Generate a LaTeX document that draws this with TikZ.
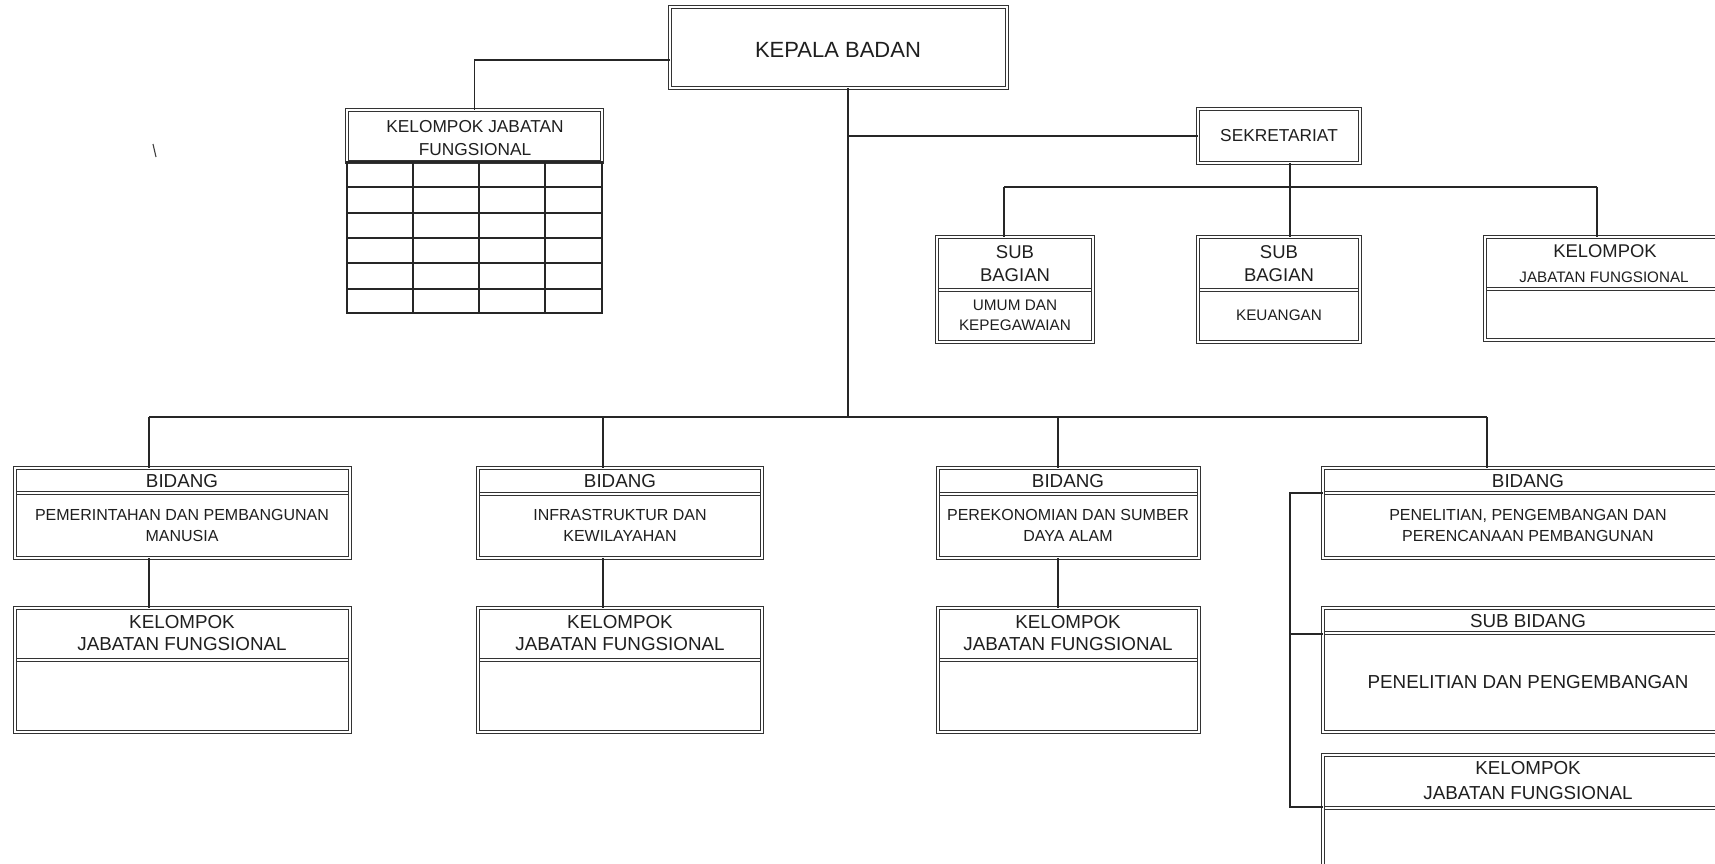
\documentclass[tikz,border=0pt]{standalone}
\usepackage{fontspec}
\setmainfont{Liberation Sans}
\begin{document}
\begin{tikzpicture}[x=1pt,y=-1pt,
  box/.style={draw=black!80, double=white, double distance=1.6pt, line width=1.1pt,
    inner sep=0pt, outer sep=0pt, anchor=north west},
  divline/.style={draw=black!80, line width=1.1pt},
  conn/.style={draw=black!85, line width=1.4pt},
  grid/.style={draw=black!85, line width=1.2pt},
  txt/.style={inner sep=0pt, outer sep=0pt, align=center, text=black!88},
  fa/.style={font=\fontsize{22}{26}\selectfont},
  fh/.style={font=\fontsize{18.8}{22}\selectfont},
  fd/.style={font=\fontsize{16}{21}\selectfont},
  fs/.style={font=\fontsize{15.3}{20}\selectfont}]
\useasboundingbox (0,0) rectangle (1715,863);
\fill[white] (0,0) rectangle (1715,863);
\clip (0,0) rectangle (1715,863);

% ---------- dividers (two thin lines each), drawn under the box borders ----------
\foreach \xa/\xb/\yy in {937/1093/290, 1198/1360/290, 1485/1725/289,
    15/350/493, 478/762/494, 938/1199/494, 1323/1733/493,
    15/350/660, 478/762/660, 938/1199/660, 1323/1733/633, 1323/1733/808}
  {\draw[divline] (\xa,\yy-1.4) -- (\xb,\yy-1.4);
   \draw[divline] (\xa,\yy+1.4) -- (\xb,\yy+1.4);}

% ---------- boxes ----------
\node[box, minimum width=337pt, minimum height=81pt] (kepala) at (670,7) {};
\node[box, minimum width=255pt, minimum height=52pt] (kjf) at (347,110) {};
\node[box, minimum width=162pt, minimum height=54pt] (sek) at (1198,109) {};
\node[box, minimum width=156pt, minimum height=105pt] (subum) at (937,237) {};
\node[box, minimum width=162pt, minimum height=105pt] (subkeu) at (1198,237) {};
\node[box, minimum width=240pt, minimum height=103pt] (kjfs) at (1485,237) {};
\node[box, minimum width=335pt, minimum height=90pt] (b1) at (15,468) {};
\node[box, minimum width=284pt, minimum height=90pt] (b2) at (478,468) {};
\node[box, minimum width=261pt, minimum height=90pt] (b3) at (938,468) {};
\node[box, minimum width=410pt, minimum height=90pt] (b4) at (1323,468) {};
\node[box, minimum width=335pt, minimum height=124pt] (k1) at (15,608) {};
\node[box, minimum width=284pt, minimum height=124pt] (k2) at (478,608) {};
\node[box, minimum width=261pt, minimum height=124pt] (k3) at (938,608) {};
\node[box, minimum width=410pt, minimum height=124pt] (subbid) at (1323,608) {};
\node[box, minimum width=410pt, minimum height=150pt] (kjfb) at (1323,755) {};

% ---------- table under top-left group ----------
\draw[grid] (347,162) rectangle (602,313);
\foreach \xx in {413,479,545} \draw[grid] (\xx,162) -- (\xx,313);
\foreach \yy in {187,213,238,263,289} \draw[grid] (347,\yy) -- (602,\yy);

% ---------- texts ----------
\node[txt, fa] (tkepala) at (838,50) {KEPALA BADAN};
\node[txt, font=\fontsize{17.3}{23}\selectfont] (tkjf) at (475,138.5) {KELOMPOK JABATAN\\FUNGSIONAL};
\node[txt, font=\fontsize{17.3}{22}\selectfont] (tsek) at (1279,136) {SEKRETARIAT};
\node[txt, font=\fontsize{18.5}{23}\selectfont] (tsubum1) at (1015,263.5) {SUB\\BAGIAN};
\node[txt, fs] (tsubum2) at (1015,315) {UMUM DAN\\KEPEGAWAIAN};
\node[txt, font=\fontsize{18.5}{23}\selectfont] (tsubkeu1) at (1279,263.5) {SUB\\BAGIAN};
\node[txt, fs] (tsubkeu2) at (1279,315) {KEUANGAN};
\node[txt, font=\fontsize{18.4}{22}\selectfont] (tkjfs1) at (1605,251) {KELOMPOK};
\node[txt, font=\fontsize{15.2}{20}\selectfont] (tkjfs2) at (1604,277) {JABATAN FUNGSIONAL};

\node[txt, fh] (tb1h) at (182,481) {BIDANG};
\node[txt, fd] (tb1d) at (182,525.5) {PEMERINTAHAN DAN PEMBANGUNAN\\MANUSIA};
\node[txt, fh] (tb2h) at (620,481) {BIDANG};
\node[txt, fd] (tb2d) at (620,525.5) {INFRASTRUKTUR DAN\\KEWILAYAHAN};
\node[txt, fh] (tb3h) at (1068,481) {BIDANG};
\node[txt, fd] (tb3d) at (1068,525.5) {PEREKONOMIAN DAN SUMBER\\DAYA ALAM};
\node[txt, fh] (tb4h) at (1528,481) {BIDANG};
\node[txt, fd] (tb4d) at (1528,525.5) {PENELITIAN, PENGEMBANGAN DAN\\PERENCANAAN PEMBANGUNAN};

\node[txt, fh] (tk1) at (182,633) {KELOMPOK\\JABATAN FUNGSIONAL};
\node[txt, fh] (tk2) at (620,633) {KELOMPOK\\JABATAN FUNGSIONAL};
\node[txt, fh] (tk3) at (1068,633) {KELOMPOK\\JABATAN FUNGSIONAL};
\node[txt, fh] (tsb1) at (1528,621) {SUB BIDANG};
\node[txt, fh] (tsb2) at (1528,682) {PENELITIAN DAN PENGEMBANGAN};
\node[txt, font=\fontsize{18.8}{25}\selectfont] (tkjfb) at (1528,780.5) {KELOMPOK\\JABATAN FUNGSIONAL};

% ---------- connectors ----------
\coordinate (kl) at (670,60);
\draw[conn] (kl) -| (kjf.north);

\coordinate (t1) at (848,417);
\draw[conn] (kepala.south -| t1) -- (t1);
\draw[conn] (t1 |- sek.west) -- (sek.west);

\coordinate (bl) at (149,417);
\coordinate (bm2) at (603,417);
\coordinate (bm3) at (1058,417);
\coordinate (br) at (1487,417);
\draw[conn] (bl) -- (br);
\draw[conn] (bl) -- (bl |- b1.north);
\draw[conn] (bm2) -- (bm2 |- b2.north);
\draw[conn] (bm3) -- (bm3 |- b3.north);
\draw[conn] (br) -- (br |- b4.north);
\draw[conn] (bl |- b1.south) -- (bl |- k1.north);
\draw[conn] (bm2 |- b2.south) -- (bm2 |- k2.north);
\draw[conn] (bm3 |- b3.south) -- (bm3 |- k3.north);

\coordinate (s1) at (1004,187);
\coordinate (s2) at (1290,187);
\coordinate (s3) at (1597,187);
\draw[conn] (s2 |- sek.south) -- (s2 |- subkeu.north);
\draw[conn] (s1) -- (s3);
\draw[conn] (s1) -- (s1 |- subum.north);
\draw[conn] (s3) -- (s3 |- kjfs.north);

\coordinate (bx1) at (1290,493);
\coordinate (bx2) at (1290,634);
\coordinate (bx3) at (1290,807);
\draw[conn] (b4.west |- bx1) -- (bx1) -- (bx3) -- (kjfb.west |- bx3);
\draw[conn] (bx2) -- (subbid.west |- bx2);

% stray mark
\draw[line width=1.1pt, black!75] (153,144) -- (156,157);
\end{tikzpicture}
\end{document}
